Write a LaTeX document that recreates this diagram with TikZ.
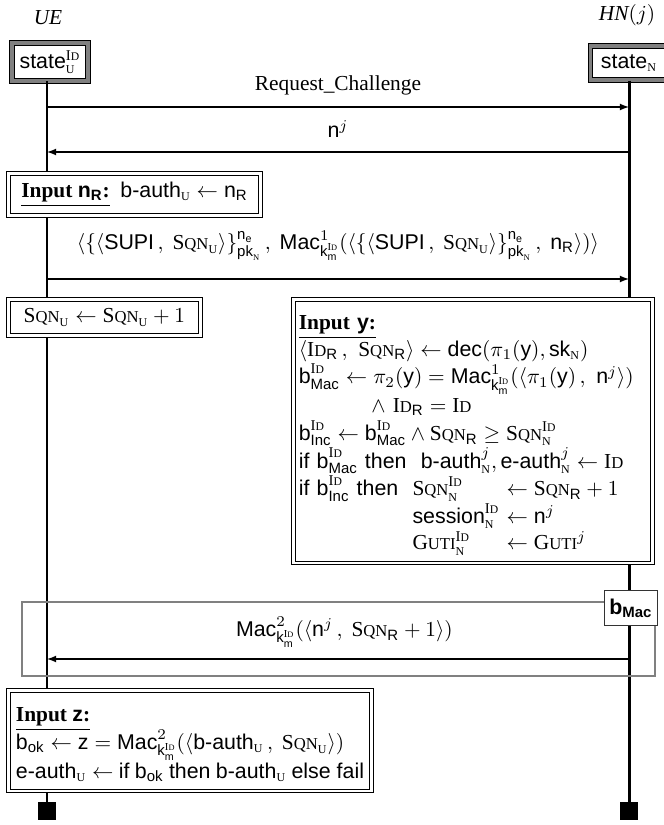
\documentclass[tikz,border=0pt]{standalone}
\usepackage{amsmath}
\usepackage{graphicx}
\usepackage{fontspec}
\setmainfont{Liberation Serif}
\setsansfont{Liberation Sans}
\newcommand{\tsf}[1]{\textsf{#1}}
\newcommand{\smc}[2]{\textrm{#1\scalebox{.78}{#2}}}
\newcommand{\sqn}{\smc{S}{QN}}
\newcommand{\idn}{\smc{I}{D}}
\newcommand{\gutin}{\smc{G}{UTI}}
\newcommand{\sU}{\textrm{\scalebox{.8}{U}}}
\newcommand{\sN}{\textrm{\scalebox{.8}{N}}}
\newcommand{\kid}{\tsf{k}^{\idn}_{\tsf{m}}}
\newcommand{\pkn}{\tsf{pk}_{\sN}}
\newcommand{\encsupi}{\{\langle \tsf{SUPI}\,,\ \sqn_{\sU}\rangle\}^{\tsf{n}_{\tsf{e}}}_{\pkn}}

\begin{document}
\begin{tikzpicture}[x=0.468pt,y=-0.468pt]
    \tikzstyle{statebox}=[draw, line width=0.5pt, double=gray, double distance=1.6pt, fill=white, inner sep=3.5pt, minimum height=16pt]
    \tikzstyle{inbox}=[draw, line width=0.45pt, double, double distance=1.2pt, fill=white, inner sep=2.5pt, anchor=north west]
    \tikzstyle{lifeline}=[line width=1.4pt]
    \tikzstyle{msgarrow}=[-latex, line width=0.5pt]
    \tikzstyle{endmark}=[fill=black, minimum size=8pt, inner sep=0pt]
    \tikzstyle{condbox}=[draw=gray, line width=0.9pt]
    \tikzstyle{guardbox}=[draw=black!80, line width=0.4pt, fill=white, minimum width=25pt, minimum height=16.5pt, inner sep=2pt]
    \useasboundingbox (0,0) rectangle (664,825);
    \node (ueName) at (48,18) {\textit{UE}};
    \node (hnName) at (627,15) {$\mathit{HN}(j)$};
    \node[statebox] (ueS) at (50,62) {\tsf{state}$^{\idn}_{\sU}$};
    \node[statebox, minimum width=36pt] (hnS) at (629,63) {\tsf{state}$_{\sN}$};
    \node[endmark] (ueStop) at (47,811) {};
    \node[endmark] (hnStop) at (629,811) {};
    \draw[lifeline] (ueS.south -| ueStop) -- (ueStop);
    \draw[lifeline] (hnS) -- (hnStop);
    \coordinate (ue1) at (47,107);
    \coordinate (hn1) at (629,107);
    \coordinate (ue2) at (47,152);
    \coordinate (hn2) at (629,152);
    \coordinate (ue3) at (47,279);
    \coordinate (hn3) at (629,279);
    \coordinate (ue4) at (47,659);
    \coordinate (hn4) at (629,659);
    \draw[msgarrow] (ue1) -- node[above=2pt] {Request\_Challenge} (hn1);
    \draw[msgarrow] (hn2) -- node[above=3pt] {$\tsf{n}^{j}$} (ue2);
    \node[inbox, minimum height=19.6pt, minimum width=118pt] (inR) at (8,173) {\underline{\textbf{Input} \textbf{\tsf{n}}$_{\textbf{\tsf{R}}}$\textbf{:}}\ \ \tsf{b-auth}$_{\sU}\leftarrow\tsf{n}_{\tsf{R}}$};
    \draw[msgarrow] (ue3) -- node[above=5pt] {$\langle\encsupi\,,\ \tsf{Mac}^{1}_{\kid}(\langle\encsupi\,,\ \tsf{n}_{\tsf{R}}\rangle)\rangle$} (hn3);
    \node[inbox, minimum height=16.8pt, minimum width=89.8pt] (incU) at (8,299) {$\sqn_{\sU}\leftarrow\sqn_{\sU}+1$};
    \node[inbox, text width=163pt] (inY) at (293,299) {\begin{tabular}{@{}l@{}}
        \rule{0pt}{11.5pt}\underline{\textbf{Input} \textbf{\tsf{y}}\textbf{:}}\\
        $\langle\idn_{\tsf{R}}\,,\ \sqn_{\tsf{R}}\rangle\leftarrow\tsf{dec}(\pi_1(\tsf{y}),\tsf{sk}_{\sN})$\\
        $\tsf{b}^{\idn}_{\tsf{Mac}}\leftarrow\pi_2(\tsf{y})=\tsf{Mac}^{1}_{\kid}(\langle\pi_1(\tsf{y})\,,\ \tsf{n}^{j}\rangle)$\\
        \hspace{34pt}$\wedge\ \idn_{\tsf{R}}=\idn$\\
        $\tsf{b}^{\idn}_{\tsf{Inc}}\leftarrow\tsf{b}^{\idn}_{\tsf{Mac}}\wedge\sqn_{\tsf{R}}\geq\sqn^{\idn}_{\sN}$\\
        \tsf{if} $\tsf{b}^{\idn}_{\tsf{Mac}}$ \tsf{then}\ \ $\tsf{b-auth}^{j}_{\sN},\tsf{e-auth}^{j}_{\sN}\leftarrow\idn$\\
        \tsf{if} $\tsf{b}^{\idn}_{\tsf{Inc}}$ \tsf{then}\ \ \begin{tabular}[t]{@{}l@{\ }l@{}}
            $\sqn^{\idn}_{\sN}$ & $\leftarrow\sqn_{\tsf{R}}+1$\\
            $\tsf{session}^{\idn}_{\sN}$ & $\leftarrow\tsf{n}^{j}$\\
            $\gutin^{\idn}_{\sN}$ & $\leftarrow\gutin^{j}$
        \end{tabular}\\[20pt]
    \end{tabular}};
    \draw[condbox] (22,602) rectangle (655,676);
    \node[guardbox] (bMac) at (631,608) {\textbf{\tsf{b}}$_{\textbf{\tsf{Mac}}}$};
    \draw[msgarrow] (hn4) -- node[above=2pt, xshift=3pt] {$\tsf{Mac}^{2}_{\kid}(\langle\tsf{n}^{j}\,,\ \sqn_{\tsf{R}}+1\rangle)$} (ue4);
    \node[inbox, inner xsep=3.5pt] (inZ) at (8,690) {\begin{tabular}{@{}l@{}}
        \rule{0pt}{12pt}\underline{\textbf{Input} \textbf{\tsf{z}}\textbf{:}}\\
        $\tsf{b}_{\tsf{ok}}\leftarrow\tsf{z}=\tsf{Mac}^{2}_{\kid}(\langle\tsf{b-auth}_{\sU}\,,\ \sqn_{\sU}\rangle)$\\
        $\tsf{e-auth}_{\sU}\leftarrow$ \tsf{if} $\tsf{b}_{\tsf{ok}}$ \tsf{then} $\tsf{b-auth}_{\sU}$ \tsf{else fail}
    \end{tabular}};
\end{tikzpicture}
\end{document}
